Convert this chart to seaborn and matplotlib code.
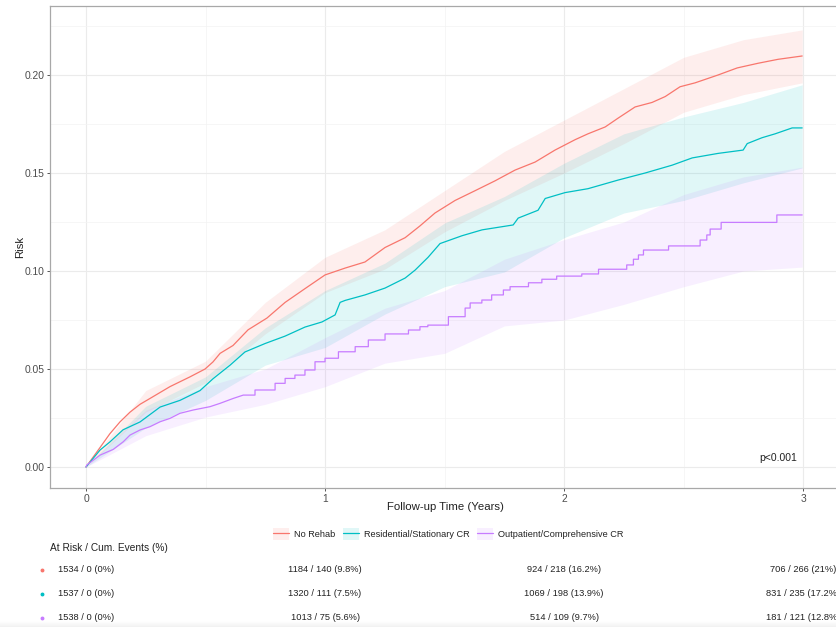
import matplotlib
matplotlib.use("Agg")
import matplotlib.pyplot as plt
import matplotlib.transforms as mtrans
from matplotlib.lines import Line2D
from matplotlib.patches import Patch
from matplotlib.ticker import MultipleLocator, FormatStrFormatter
import numpy as np
import pandas as pd
import seaborn as sns

groups = ["No Rehab", "Residential/Stationary CR", "Outpatient/Comprehensive CR"]
colors = ["#F8766D", "#00BFC4", "#C77CFF"]

# cumulative risk curves (years, risk)
red_t = [0, 0.059, 0.100, 0.142, 0.184, 0.226, 0.268, 0.351, 0.435, 0.498, 0.531, 0.561,
         0.615, 0.678, 0.757, 0.833, 0.916, 1.0, 1.084, 1.167, 1.251, 1.335, 1.397, 1.460,
         1.544, 1.628, 1.711, 1.795, 1.879, 1.962, 2.046, 2.100, 2.172, 2.226, 2.297, 2.368,
         2.423, 2.485, 2.548, 2.644, 2.724, 2.812, 2.895, 2.996]
red_r = [0, 0.010, 0.017, 0.023, 0.028, 0.032, 0.035, 0.041, 0.046, 0.050, 0.0536, 0.058,
         0.062, 0.070, 0.076, 0.084, 0.091, 0.098, 0.1015, 0.1046, 0.112, 0.117, 0.123, 0.1296,
         0.136, 0.141, 0.146, 0.1515, 0.1556, 0.1617, 0.167, 0.170, 0.1735, 0.178, 0.1837, 0.186,
         0.189, 0.194, 0.196, 0.200, 0.2036, 0.206, 0.208, 0.2097]

teal_t = [0, 0.059, 0.100, 0.155, 0.226, 0.310, 0.393, 0.477, 0.531, 0.603, 0.665, 0.749,
          0.833, 0.916, 0.987, 1.042, 1.063, 1.084, 1.167, 1.251, 1.335, 1.377, 1.431, 1.481,
          1.573, 1.657, 1.787, 1.808, 1.891, 1.921, 2.004, 2.100, 2.226, 2.339, 2.452, 2.536,
          2.644, 2.749, 2.766, 2.828, 2.883, 2.954, 2.996]
teal_r = [0, 0.0087, 0.0128, 0.019, 0.023, 0.0306, 0.034, 0.039, 0.045, 0.052, 0.0587, 0.063,
          0.0668, 0.0714, 0.074, 0.0776, 0.084, 0.085, 0.0878, 0.0913, 0.0964, 0.1005, 0.107, 0.114,
          0.118, 0.121, 0.1235, 0.127, 0.131, 0.137, 0.140, 0.142, 0.1464, 0.150, 0.154, 0.1577,
          0.160, 0.1617, 0.165, 0.168, 0.170, 0.173, 0.173]

purple_t = [0, 0.003, 0.059, 0.114, 0.156, 0.184, 0.226, 0.268, 0.310, 0.351, 0.393, 0.449,
            0.519, 0.561, 0.616, 0.658, 0.707, 0.707, 0.791, 0.791, 0.833, 0.833, 0.874, 0.874,
            0.916, 0.916, 0.958, 0.958, 1.0, 1.0, 1.056, 1.056, 1.126, 1.126, 1.181, 1.181,
            1.251, 1.251, 1.349, 1.349, 1.397, 1.397, 1.43, 1.43, 1.516, 1.516, 1.586, 1.586,
            1.607, 1.607, 1.656, 1.656, 1.697, 1.697, 1.746, 1.746, 1.774, 1.774, 1.851, 1.851,
            1.907, 1.907, 1.969, 1.969, 2.074, 2.074, 2.144, 2.144, 2.262, 2.262, 2.290, 2.290,
            2.311, 2.311, 2.332, 2.332, 2.437, 2.437, 2.569, 2.569, 2.597, 2.597, 2.611, 2.611,
            2.657, 2.657, 2.890, 2.890, 2.996]
purple_r = [0, 0.001, 0.0061, 0.009, 0.0129, 0.0163, 0.0189, 0.0206, 0.0231, 0.0248, 0.0274, 0.0291,
            0.0308, 0.0325, 0.035, 0.0367, 0.0367, 0.0393, 0.0393, 0.0427, 0.0427, 0.0452, 0.0452, 0.0469,
            0.0469, 0.0495, 0.0495, 0.0537, 0.0537, 0.0555, 0.0555, 0.0588, 0.0588, 0.0614, 0.0614, 0.0648,
            0.0648, 0.0679, 0.0679, 0.0699, 0.0699, 0.0716, 0.0716, 0.0724, 0.0724, 0.0767, 0.0767, 0.0811,
            0.0811, 0.0837, 0.0837, 0.0852, 0.0852, 0.0878, 0.0878, 0.0903, 0.0903, 0.092, 0.092, 0.094,
            0.094, 0.0958, 0.0958, 0.0974, 0.0974, 0.0985, 0.0985, 0.1009, 0.1009, 0.1031, 0.1031, 0.106,
            0.106, 0.1082, 0.1082, 0.1107, 0.1107, 0.1128, 0.1128, 0.1158, 0.1158, 0.1184, 0.1184, 0.1214,
            0.1214, 0.1248, 0.1248, 0.1286, 0.1286]

# confidence bands
band_t = [0, 0.25, 0.5, 0.75, 1.0, 1.25, 1.5, 1.75, 2.0, 2.25, 2.5, 2.75, 2.996]
red_lo = [0, 0.028, 0.043, 0.068, 0.089, 0.101, 0.120, 0.136, 0.150, 0.165, 0.181, 0.190, 0.196]
red_hi = [0, 0.039, 0.054, 0.084, 0.107, 0.121, 0.141, 0.161, 0.177, 0.193, 0.209, 0.218, 0.223]
teal_lo = [0, 0.020, 0.034, 0.052, 0.061, 0.078, 0.092, 0.0995, 0.117, 0.1296, 0.136, 0.145, 0.1526]
teal_hi = [0, 0.031, 0.046, 0.071, 0.090, 0.104, 0.1245, 0.138, 0.155, 0.170, 0.1786, 0.186, 0.195]
purple_lo = [0, 0.016, 0.0255, 0.032, 0.041, 0.053, 0.058, 0.072, 0.075, 0.083, 0.092, 0.100, 0.102]
purple_hi = [0, 0.029, 0.041, 0.050, 0.066, 0.081, 0.090, 0.106, 0.116, 0.125, 0.139, 0.148, 0.153]

# risk table
risk_times = [0, 1, 2, 3]
at_risk = [[1534, 1184, 924, 706], [1537, 1320, 1069, 831], [1538, 1013, 514, 181]]
cum_events = [[0, 140, 218, 266], [0, 111, 198, 235], [0, 75, 109, 121]]
cum_pct = [["0%", "9.8%", "16.2%", "21%"], ["0%", "7.5%", "13.9%", "17.2%"],
           ["0%", "5.6%", "9.7%", "12.8%"]]

curves = [(red_t, red_r), (teal_t, teal_r), (purple_t, purple_r)]
bands = [(red_lo, red_hi), (teal_lo, teal_hi), (purple_lo, purple_hi)]

frames = []
for g, (t, r) in zip(groups, curves):
    frames.append(pd.DataFrame({"time": t, "risk": r, "group": g}))
df = pd.concat(frames, ignore_index=True)

sns.set_theme(style="whitegrid")
plt.rcParams["font.family"] = ["Liberation Sans", "DejaVu Sans"]

W, H = 836, 627
fig = plt.figure(figsize=(W / 100, H / 100), dpi=100)

# faint grey shade along the bottom edge (screenshot artefact)
shade = fig.add_axes([0, 0, 1, 6 / H], zorder=0)
shade.imshow(np.linspace(0, 1, 20).reshape(-1, 1), cmap="Greys", vmin=0, vmax=9,
             aspect="auto", extent=(0, 1, 0, 1), origin="upper")
shade.axis("off")

ax = fig.add_axes([50 / W, 1 - 488 / H, 789 / W, 482 / H])
ax.set_facecolor("white")

for c, (lo, hi) in zip(colors, bands):
    ax.fill_between(band_t, lo, hi, color=c, alpha=0.12, lw=0, zorder=1)

sns.lineplot(data=df, x="time", y="risk", hue="group", hue_order=groups, palette=colors,
             estimator=None, sort=False, lw=0.9, legend=False, ax=ax, zorder=3)

ax.set_xlim(-0.1506, 3.15)
ax.set_ylim(-0.0107, 0.2352)
ax.xaxis.set_major_locator(MultipleLocator(1))
ax.xaxis.set_minor_locator(MultipleLocator(0.5))
ax.yaxis.set_major_locator(MultipleLocator(0.05))
ax.yaxis.set_minor_locator(MultipleLocator(0.025))
ax.yaxis.set_major_formatter(FormatStrFormatter("%.2f"))
ax.grid(which="major", color="#EBEBEB", lw=0.8)
ax.grid(which="minor", color="#F3F3F3", lw=0.5)
ax.set_axisbelow(True)
for s in ax.spines.values():
    s.set_color("#A8A8A8")
    s.set_linewidth(0.9)
ax.tick_params(which="major", length=2.5, width=0.7, color="#555555", pad=1.5,
               labelsize=7.4, labelcolor="#4D4D4D", bottom=True, left=True)
ax.tick_params(which="minor", length=0)

ax.set_xlabel("Follow-up Time (Years)", fontsize=8.2, color="#222222")
ax.set_ylabel("Risk", fontsize=8.2, color="#222222")
ax.xaxis.set_label_coords((445 - 50) / 789, -(507 - 488) / 482)
ax.xaxis.label.set_va("center")
ax.yaxis.set_label_coords(-(50 - 20) / 789, 0.5)
ax.yaxis.label.set_va("center")

ax.text(2.975, 0.0046, "p<0.001", ha="right", va="center", fontsize=7.5, color="#222222")

handles = [(Patch(facecolor=c, alpha=0.12, lw=0), Line2D([], [], color=c, lw=0.9)) for c in colors]
fig.legend(handles, groups, loc="center", bbox_to_anchor=(448 / W, 1 - 534 / H), ncol=3,
           frameon=False, fontsize=6.6, handlelength=1.8, handleheight=1.5,
           handletextpad=0.5, columnspacing=0.8, labelcolor="#222222")

fig.text(50 / W, 1 - 548 / H, "At Risk / Cum. Events (%)", ha="left", va="center",
         fontsize=7.3, color="#222222")
trans = mtrans.blended_transform_factory(ax.transData, fig.transFigure)
row_y = [570, 594, 618]
for i, c in enumerate(colors):
    yy = 1 - row_y[i] / H
    fig.add_artist(Line2D([42 / W], [yy], marker="o", ms=1.8, color=c, lw=0,
                          transform=fig.transFigure))
    for j, t in enumerate(risk_times):
        label = f"{at_risk[i][j]} / {cum_events[i][j]} ({cum_pct[i][j]})"
        fig.text(t, yy, label, transform=trans, ha="center", va="center",
                 fontsize=6.7, color="#222222")

fig.savefig("out.png", dpi=100)
